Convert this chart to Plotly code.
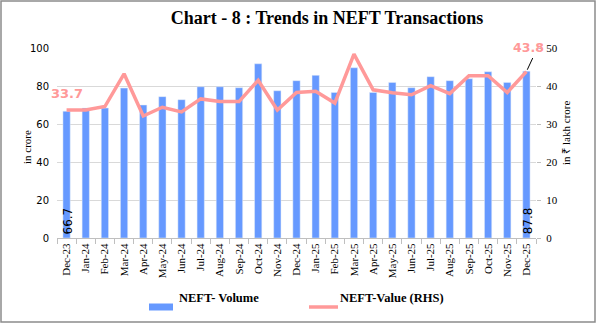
import plotly.graph_objects as go

months = ["Dec-23","Jan-24","Feb-24","Mar-24","Apr-24","May-24","Jun-24","Jul-24","Aug-24","Sep-24",
          "Oct-24","Nov-24","Dec-24","Jan-25","Feb-25","Mar-25","Apr-25","May-25","Jun-25","Jul-25",
          "Aug-25","Sep-25","Oct-25","Nov-25","Dec-25"]
volume = [66.7,68.4,68.4,78.9,70.0,74.4,72.8,79.6,79.6,79.1,
          91.7,77.5,82.8,85.6,76.6,89.6,76.6,81.9,79.1,84.9,
          82.8,83.8,87.5,81.9,87.8]
value = [33.7,33.7,34.6,43.2,32.1,34.4,33.2,36.6,35.9,35.9,
         41.5,33.7,38.3,38.6,35.5,48.4,39.0,38.2,37.7,40.1,
         38.0,42.7,42.7,38.3,43.8]
left_ticks = [0,20,40,60,80,100]
right_ticks = [0,10,20,30,40,50]
series_names = ["NEFT- Volume", "NEFT-Value (RHS)"]

BLUE = "#6699FF"
PINK = "#FF9999"
W, H = 597, 324
L, R, T, B = 57, 61, 48, 86
pw, ph = W - L - R, H - T - B

def px(x):
    return (x - L) / pw

def py(y):
    return (H - B - y) / ph

fig = go.Figure()
fig.add_trace(go.Bar(x=months, y=volume, name=series_names[0], marker_color=BLUE,
                     yaxis="y", showlegend=False))
fig.add_trace(go.Scatter(x=months, y=value, name=series_names[1], mode="lines",
                         line=dict(color=PINK, width=3.5), yaxis="y2", showlegend=False))

serif = "Liberation Serif"
sans = "DejaVu Sans"

fig.update_layout(
    width=W, height=H,
    margin=dict(l=L, r=R, t=T, b=B, autoexpand=False),
    paper_bgcolor="white", plot_bgcolor="white",
    bargap=0.62,
    showlegend=False,
    title=dict(text="<b>Chart - 8 : Trends in NEFT Transactions</b>",
               font=dict(family=serif, size=18, color="black"),
               x=327 / W, xanchor="center", y=1 - 18 / H, yanchor="middle"),
    xaxis=dict(type="category", range=[-0.5, len(months) - 0.5], autorange=False,
               tickangle=-90, tickfont=dict(family=serif, size=11, color="black"),
               showgrid=False, showline=True, linecolor="#BFBFBF", linewidth=1, automargin=False,
               ticks="outside", tickson="boundaries", ticklen=5, tickcolor="#BFBFBF"),
    yaxis=dict(range=[0, 100], tickvals=left_ticks, showgrid=True, gridcolor="#D9D9D9",
               tickfont=dict(family=sans, size=10, color="black"), zeroline=False,
               showline=False, ticks="", ticklabelstandoff=7, automargin=False),
    yaxis2=dict(range=[0, 50], tickvals=right_ticks, overlaying="y", side="right",
                showgrid=False, zeroline=False, showline=False, automargin=False,
                ticks="outside", ticklen=4, tickcolor="#BFBFBF", ticklabelstandoff=3,
                tickfont=dict(family=serif, size=11, color="black")),
)

annots = [
    dict(x=months[0], y=value[0], yref="y2", text="<b>33.7</b>", showarrow=False,
         font=dict(family=sans, size=13, color=PINK), xshift=0, yshift=16),
    dict(x=months[-1], y=value[-1], yref="y2", text="", showarrow=True,
         arrowhead=0, arrowwidth=1, arrowcolor="black", ax=7, ay=-15, standoff=2),
    dict(x=months[-1], y=value[-1], yref="y2", text="<b>43.8</b>", showarrow=False,
         font=dict(family=sans, size=12.5, color=PINK), xshift=2, yshift=24),
    dict(x=months[0], y=9, yref="y", text="66.7", textangle=-90, showarrow=False,
         font=dict(family=sans, size=12, color="black"), xshift=1),
    dict(x=months[-1], y=9, yref="y", text="87.8", textangle=-90, showarrow=False,
         font=dict(family=sans, size=12, color="black"), xshift=1),
    dict(xref="paper", yref="paper", x=px(19), y=py(147),
         text="in crore", textangle=-90, showarrow=False,
         font=dict(family=serif, size=11, color="black")),
    dict(xref="paper", yref="paper", x=px(574), y=py(133),
         text="in ₹ lakh crore", textangle=-90, showarrow=False,
         font=dict(family=serif, size=11, color="black")),
    dict(xref="paper", yref="paper", x=px(177), y=py(307), xanchor="left",
         text="<b>" + series_names[0] + "</b>", showarrow=False,
         font=dict(family=serif, size=12.5, color="black")),
    dict(xref="paper", yref="paper", x=px(338), y=py(307), xanchor="left",
         text="<b>" + series_names[1] + "</b>", showarrow=False,
         font=dict(family=serif, size=12.5, color="black")),
]
fig.update_layout(annotations=annots)

# legend swatches
fig.add_shape(type="rect", xref="paper", yref="paper",
              x0=px(149), x1=px(173), y0=py(310.5), y1=py(303.5),
              line=dict(width=0), fillcolor=BLUE)
fig.add_shape(type="line", xref="paper", yref="paper",
              x0=px(309), x1=px(338), y0=py(307), y1=py(307),
              line=dict(color=PINK, width=3.5))

# outer border
fig.add_shape(type="rect", xref="paper", yref="paper",
              x0=px(1), x1=px(595), y0=py(322), y1=py(1),
              line=dict(color="#8C8C8C", width=1.5), fillcolor="rgba(0,0,0,0)", layer="below")

fig.write_html("out.html")
